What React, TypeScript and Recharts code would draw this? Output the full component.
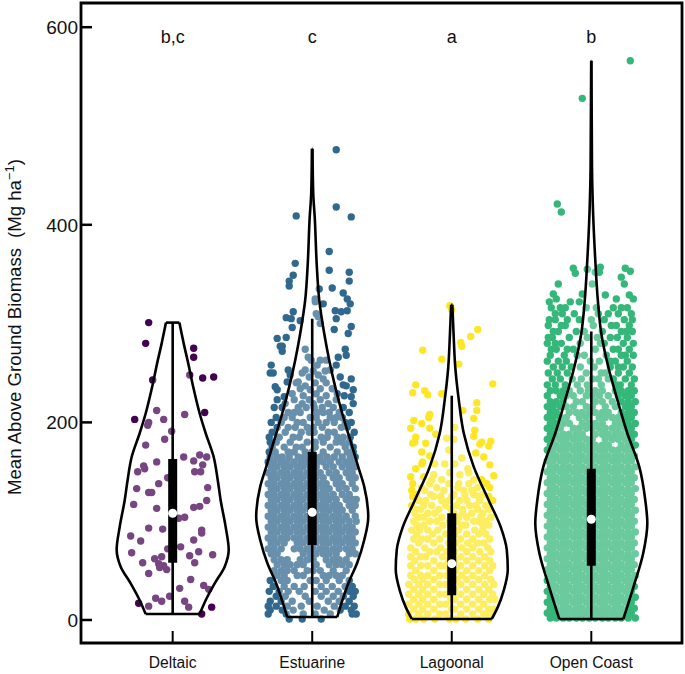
import { ReferenceArea, Scatter, ScatterChart, XAxis, YAxis, Curve } from 'recharts';

const FONT = '"Liberation Sans", Arial, sans-serif';
const categories = ['Deltaic', 'Estuarine', 'Lagoonal', 'Open Coast'];
const letters = ['b,c', 'c', 'a', 'b'];
const colors = ['#440154', '#31688E', '#FDE725', '#35B779'];
const yTicks = [0, 200, 400, 600];
const xDomain = [0.343, 4.65];
const yDomain = [-23.3, 624.5];
const UNIT = 1 / 139.5; // jitter and violin half widths are read in pixels of the picture

// box stats: low whisker, q1, median, q3, high whisker
const boxStats = [
    [6, 58, 108, 163, 301],
    [3, 76, 109, 170, 305],
    [0, 25, 57, 108, 227],
    [0, 55, 102, 153, 292],
];

// [biomass, half width]
const deltaicViolin = [[6, 27], [20, 33], [37, 42], [54, 52], [71, 56], [94, 53], [121, 48], [142, 45], [165, 41], [189, 33], [209, 27], [236, 20.5], [260, 15.5], [280, 11], [301, 6.7]];
const estuarineViolin = [[3, 25], [37, 36], [58, 45], [81, 52], [104, 56], [135, 52], [155, 46], [182, 38], [209, 30], [236, 23], [263, 17], [290, 12], [324, 7], [360, 4.5], [408, 2.5], [432, 1], [477, 0.3]];
const lagoonalViolin = [[1, 40], [13, 46], [30, 52], [51, 56], [71, 55], [94, 49], [121, 37], [155, 22], [189, 12], [223, 7], [256, 3.5], [290, 1.8], [319, 0.6]];
const openViolin = [[1, 32], [33, 42], [68, 52], [98, 56], [121, 54], [155, 48], [189, 36], [223, 26], [256, 17], [290, 10], [324, 6.5], [364, 4], [412, 1.8], [458, 0.7], [566, 0.1]];

// [biomass, jitter, jitter, ...]
const deltaicRows = [
    [301, -24], [280, -27], [275, 21], [266, 21], [243, -20], [248, 17], [245, 30], [246, 41], [210, 32], [203, -38, -9], [212, -16], [208, 12],
    [200, -24], [197, -25], [191, -1], [183, -8], [177, -27], [165, 11, 34], [167, 27], [161, 21], [157, 30], [160, -16], [156, -29], [153, -28],
    [150, -35, 22, 28], [144, -5], [138, -14], [134, 35], [133, -36], [129, -24, -21], [121, 34], [117, -39], [113, -16], [114, 21], [115, 27],
    [104, 12], [103, 6], [93, -24], [92, -10], [91, 29], [88, 29], [85, -42], [81, 21], [80, -32], [74, 8], [72, -5], [68, -41], [69, 26], [66, 40],
    [65, 17], [62, -18], [64, -11], [58, -30, 22], [57, -14], [53, -13], [51, -6], [55, -9], [47, -24], [41, 18], [35, 31], [31, 36], [32, 7],
    [24, -3], [22, -17], [19, -11, 12], [17, -34], [14, -24], [13, 16, 39], [6, 29],
];
const estuarineRows = [
    [476, 24], [418, 24], [409, -16], [408, 39], [373, 17], [361, -17], [354, 17], [352, 37], [349, -19], [343, -23, 37], [338, -23], [335, 7], [336, 20],
    [331, 31], [325, 3, 35], [322, 3], [320, 11, 38], [313, 23, 35], [312, 29, -19], [310, 4], [307, 6], [306, -26], [305, -21, 24], [303, -12], [300, 8],
    [297, 39], [296, -20], [294, 22], [290, 36], [286, -26], [285, -35], [277, -30, -32], [274, 33, -7], [272, -30], [268, 34], [266, 26, -4], [263, 8, -1, 14],
    [258, -41, 24, 5], [253, -24, 18, -7], [252, 13, 1], [250, -42, -39, -10], [248, -22, 6], [246, 28, -3], [244, 39, 11], [241, -25, -14], [240, -16, 14, 3], [238, 31], [237, 34, -7], [236, -37],
    [234, -12, 8, 20], [233, -35, 41, -2], [229, 4, -20, 25], [227, 14, -9, 32], [226, 39, -28], [223, -35, -18, -3, 8, 24], [219, 41, -27, -10, 16, 1], [215, -38, -30, -14, -6, 2, 10, 21, 31],
    [210, -24, -18, -12, 5, 11, 17, 27, 37], [205, -36, -28, -20, -2, 4, 18, 24, 30], [200, -41, -31, -15, -9, 6, 14, 22, 39, 33], [195, -35, -24, -17, -5, 1, 10, 29, 35], [190, -40, -27, -11, -3, 2, 16, 22, 42],
    [185, -43, -33, -19, -13, 9, 15, 25, 31, 38], [180, -42, -36, -22, -5, 3, 11, 24, 30, 37], [175, -40, -28, -16, -10, 3, 18, 33, 41], [170, -43, -37, -24, -18, -7, 0, 11, 25, 35, 41],
    [165, -42, -35, -30, -23, -14, -8, 2, 8, 15, 22, 30, 38, 43], [160, -44, -38, -31, -25, -18, -11, -5, 5, 11, 18, 27, 34, 40], [155, -41, -35, -28, -22, -15, -9, -2, 4, 14, 21, 30, 37, 43],
    [149, -44, -38, -31, -25, -18, -12, -5, 1, 8, 17, 24, 34, 40], [144, -41, -35, -28, -22, -15, -9, -2, 4, 11, 21, 27, 37, 43], [138, -44, -38, -31, -25, -18, -12, -5, 1, 8, 14, 24, 30, 40],
    [133, -41, -35, -28, -22, -15, -9, -2, 4, 11, 17, 27, 34, 43], [127, -44, -38, -31, -25, -18, -12, -5, 1, 8, 14, 21, 30, 37], [122, -41, -35, -28, -22, -15, -9, -2, 4, 11, 17, 24, 34, 40, 44],
    [116, -44, -38, -31, -25, -18, -12, -5, 1, 8, 14, 21, 27, 37, 43], [111, -41, -35, -28, -22, -15, -9, -2, 4, 11, 17, 24, 30, 40], [105, -44, -38, -31, -25, -18, -12, -5, 1, 8, 14, 21, 27, 34, 43],
    [100, -41, -35, -28, -22, -15, -9, -2, 4, 11, 17, 24, 30, 37, 44], [94, -44, -38, -31, -25, -18, -12, -5, 1, 8, 14, 21, 27, 34, 40], [89, -41, -35, -28, -22, -15, -9, -2, 4, 11, 17, 24, 30, 37, 43],
    [83, -44, -38, -31, -25, -18, -12, -5, 1, 8, 14, 21, 27, 34, 40], [78, -41, -35, -28, -15, -9, -2, 4, 11, 17, 24, 30, 37, 43], [72, -44, -38, -31, -18, -12, -5, 1, 8, 14, 21, 27, 34, 40],
    [67, -41, -35, -9, -2, 4, 11, 17, 24, 37, 43], [61, -38, -31, -25, -12, -5, 1, 14, 21, 27, 34], [56, -35, -28, -22, -15, -9, 4, 17, 24, 30, 37],
    [50, -38, -31, -25, -18, -5, 1, 8, 21, 34], [45, -35, -28, -15, -9, 11, 17, 24, 30], [40, -42, -31, -25, -2, 4, 14, 27, 37], [34, -39, -28, -18, -8, 9, 20, 33, 40],
    [29, -43, -33, -24, -13, 3, 14, 26, 37, 43], [24, -36, -27, -7, 9, 21, 31, 41], [19, -42, -31, -20, -3, 16, 27, 37], [14, -44, -36, -25, -11, 5, 22, 33, 42],
    [10, -42, -30, -19, 12, 28, 39], [6, -44, -26, -9, 3, 18, 40, 44], [1, -23, -10, 9],
];
const lagoonalRows = [
    [318, -2], [314, 0], [294, 26], [287, 19], [281, 9], [277, 10], [273, -29], [264, -10], [259, 7], [239, 41], [238, -36], [232, -27], [230, -39], [229, -10],
    [228, -24], [220, 25], [212, 25, 11], [208, -22], [205, -23], [204, 22], [202, -38], [199, -30], [195, 3], [194, -41, -22], [192, 23], [188, -16], [186, 22],
    [185, -36], [184, -5], [183, 2], [181, 39], [180, -37, 30], [179, -39, -26], [178, 28], [176, 37], [172, -3], [170, -30], [169, 24], [166, -22], [165, 32],
    [164, 10], [160, -29], [158, -30, -17, -7, 3], [157, 38], [153, -36, 16], [149, 17, -2], [147, -18, 8], [146, 42], [145, -41, -28],
    [142, -10, 22, 30, -20], [138, -39, -22, -3, 17, 35, 7], [134, -15, 6, 26, 38, -30], [131, -40, -27, -8, 12, 20], [127, -35, -21, 2, 13, 22, 31], [125, -39, -18, -11, 0, 37, 27],
    [121, -33, -26, -10, -3, 8, 15, 28, 41], [116, -40, -28, -20, -6, 5, 18, 24, 34], [112, -36, -31, -13, -1, 11, 26, 37], [108, -37, -24, -17, 2, 11, 20, 31], [104, -33, -28, -10, 7, 15, 29, 39],
    [100, -38, -22, -15, -2, 5, 22, 27, 34], [96, -35, -28, -9, 10, 14, 31, 37], [91, -40, -32, -24, -14, 1, 7, 23, 31], [87, -35, -19, -6, 3, 15, 27, 34], [82, -38, -30, -24, -12, 9, 21, 38],
    [78, -33, -18, -3, 4, 16, 26, 32], [73, -41, -27, -11, 10, 21, 36], [69, -36, -22, -15, -5, 3, 15, 28, 39], [64, -41, -31, -26, -9, 9, 21, 33], [60, -37, -18, -3, 3, 15, 27, 38],
    [55, -41, -31, -24, -12, -7, 9, 21, 33, 41], [50, -36, -18, -2, 4, 15, 27, 38], [45, -41, -31, -24, -12, -5, 10, 21, 33], [41, -37, -29, -18, -1, 5, 15, 27, 39], [36, -43, -33, -24, -12, -6, 9, 21, 33, 42],
    [31, -38, -29, -18, 0, 3, 15, 27, 37], [26, -43, -33, -24, -12, -6, 9, 21, 32, 41], [21, -38, -29, -18, -1, 3, 15, 27, 38, 43], [16, -43, -33, -24, -12, -6, 9, 21, 32], [11, -38, -29, -18, 0, 3, 15, 27, 37, 42],
    [6, -43, -33, -24, -12, -6, 9, 21, 32, 38], [1, -42, -36, -28, -17, -2, 4, 14, 26, 37],
];
const openRows = [
    [566, 39], [528, -9], [421, -34], [413, -30], [357, 9], [356, -18, 34], [355, -4], [353, 39], [352, 4, 8], [351, -16], [347, 30], [340, -33, 1, 33], [330, -9, -38],
    [329, 14, 38], [325, -35, 42, 25], [322, -21, -12, -42], [316, -40, -31, -26, -5, 5, 22, 36, 30], [310, -36, -29, -17, 7, 27, 40, 17], [304, -42, -36, -24, -12, 0, 13, 33, 41],
    [298, -43, -30, -26, 2, 20, 25, 38], [292, -38, -33, -15, -7, 11, 30, 41, 35], [286, -43, -39, -22, -4, 6, 19, 26, 36], [280, -44, -36, -30, -11, 9, 13, 32, 42], [274, -40, -35, -24, -18, 4, 22, 27, 38],
    [268, -41, -27, -14, -7, 15, 30, 34, 42], [262, -44, -33, -25, -1, 8, 19, 24, 36], [256, -38, -29, -20, -11, 3, 19, 32, 41, 27], [250, -43, -34, -24, -5, 14, 10, 27, 38],
    [244, -39, -31, -19, -10, 1, 7, 22, 34, 43, 17], [238, -44, -36, -26, -14, -4, 10, 29, 25, 40], [232, -41, -35, -28, -22, -11, -3, 4, 11, 24, 30, 37, 43], [227, -44, -31, -25, -18, -5, 1, 8, 17, 27, 34, 40],
    [221, -41, -35, -28, -15, -9, 4, 11, 21, 30, 37, 44], [216, -44, -38, -31, -25, -18, -5, 1, 14, 24, 34, 40], [210, -41, -35, -22, -15, -9, -2, 4, 11, 17, 30, 37, 43], [205, -44, -38, -31, -25, -12, -5, 8, 14, 21, 27, 34, 40],
    [199, -41, -35, -28, -22, -9, -2, 4, 11, 24, 30, 37, 44], [194, -44, -38, -31, -18, -12, -5, 1, 8, 14, 21, 27, 34, 40], [188, -41, -35, -28, -22, -15, -9, 4, 11, 17, 24, 30, 37, 43],
    [183, -44, -38, -31, -25, -18, -12, -5, 1, 14, 21, 27, 34, 40], [177, -41, -35, -28, -22, -15, -9, -2, 4, 11, 17, 30, 37, 44], [172, -44, -38, -31, -25, -18, -12, -5, 1, 8, 14, 21, 27, 34, 40],
    [166, -41, -35, -28, -22, -15, -9, -2, 4, 11, 17, 24, 30, 37, 43], [161, -44, -38, -31, -25, -18, -12, -5, 1, 8, 14, 21, 27, 34, 40], [155, -41, -35, -28, -22, -15, -9, -2, 4, 11, 17, 24, 30, 37, 44],
    [150, -44, -38, -31, -25, -18, -12, -5, 1, 8, 14, 21, 27, 34, 40], [144, -41, -35, -28, -22, -15, -9, -2, 4, 11, 17, 24, 30, 37, 43], [139, -44, -38, -31, -25, -18, -12, -5, 1, 8, 14, 21, 27, 34, 40],
    [133, -41, -35, -28, -22, -15, -9, -2, 4, 11, 17, 24, 30, 37, 44], [128, -44, -38, -31, -25, -18, -12, -5, 1, 8, 14, 21, 27, 34, 40], [122, -41, -35, -28, -22, -15, -9, -2, 4, 11, 17, 24, 30, 37, 43],
    [117, -44, -38, -31, -25, -18, -12, -5, 1, 8, 14, 21, 27, 34, 40], [111, -41, -35, -28, -22, -15, -9, -2, 4, 11, 17, 24, 30, 37, 44], [106, -44, -38, -31, -25, -18, -12, -5, 1, 8, 14, 21, 27, 34, 40],
    [100, -41, -35, -28, -22, -15, -9, -2, 4, 11, 17, 24, 30, 37, 43], [95, -44, -38, -31, -25, -18, -12, -5, 1, 8, 14, 21, 27, 34, 40], [89, -41, -35, -28, -22, -15, -9, -2, 4, 11, 17, 24, 30, 37, 44],
    [84, -44, -38, -31, -25, -18, -12, -5, 1, 8, 14, 21, 27, 34, 40], [78, -41, -35, -28, -22, -15, -9, -2, 4, 11, 17, 24, 30, 37, 43], [73, -44, -38, -31, -25, -18, -12, -5, 1, 8, 14, 21, 27, 34, 40],
    [67, -41, -35, -28, -22, -15, -9, -2, 4, 11, 17, 24, 30, 37, 44], [62, -44, -38, -31, -25, -18, -12, -5, 1, 8, 14, 21, 27, 34, 40], [56, -41, -35, -28, -22, -15, -9, -2, 4, 11, 17, 24, 30, 37, 43],
    [51, -44, -38, -31, -25, -18, -12, -5, 1, 8, 14, 21, 27, 34, 40], [45, -41, -35, -28, -22, -15, -9, -2, 4, 11, 17, 24, 30, 37, 44], [40, -44, -38, -31, -25, -18, -12, -5, 1, 8, 14, 21, 27, 34, 40],
    [34, -41, -35, -28, -22, -15, -9, -2, 4, 11, 17, 24, 30, 37, 43], [29, -44, -38, -31, -25, -18, -12, -5, 1, 8, 14, 21, 27, 34, 40], [23, -41, -35, -28, -22, -15, -9, -2, 4, 11, 17, 24, 30, 37, 44],
    [18, -44, -38, -31, -25, -18, -12, -5, 1, 8, 14, 21, 27, 34, 40], [12, -41, -35, -28, -22, -15, -9, -2, 4, 11, 17, 24, 30, 37, 43], [7, -44, -38, -31, -25, -18, -12, -5, 1, 8, 14, 21, 27, 34, 40],
    [2, -41, -35, -28, -22, -15, -9, -2, 4, 11, 17, 24, 30, 37, 44],
];

const cloudRows = [deltaicRows, estuarineRows, lagoonalRows, openRows];
const violinProfiles = [deltaicViolin, estuarineViolin, lagoonalViolin, openViolin];

const cloudData = (rows: number[][], pos: number) =>
    rows.flatMap(([biomass, ...jitters]) => jitters.map(j => ({ x: pos + j * UNIT, y: biomass })));

const violinData = (profile: number[][], pos: number) => [
    ...profile.map(([biomass, half]) => ({ x: pos - half * UNIT, y: biomass })),
    ...[...profile].reverse().map(([biomass, half]) => ({ x: pos + half * UNIT, y: biomass })),
];

const noDot = () => <g />;

// fill polygon plus two smooth sides and the flat caps
const violinLine = (props: any) => {
    const pts = props.points;
    const n = pts.length / 2;
    const left = pts.slice(0, n);
    const right = pts.slice(n);
    const sideStyle = { stroke: '#000', strokeWidth: 2.6, fill: 'none' };
    return (
        <g>
            <Curve type="linearClosed" points={pts} fill="#fff" fillOpacity={0.27} stroke="none" />
            <Curve type="monotoneY" points={left} {...sideStyle} />
            <Curve type="monotoneY" points={right} {...sideStyle} />
            <Curve type="linear" points={[left[0], right[n - 1]]} {...sideStyle} />
            <Curve type="linear" points={[left[n - 1], right[0]]} {...sideStyle} />
        </g>
    );
};

const YTick = (props: any) => (
    <g>
        <line x1={props.x} x2={props.x + 11} y1={props.y} y2={props.y} stroke="#000" strokeWidth={2.5} />
        <text x={props.x - 3} y={props.y + 7} textAnchor="end" fontSize={19} fontFamily={FONT} fill="#111">{props.payload.value}</text>
    </g>
);

const XTick = (props: any) => (
    <g>
        <line x1={props.x} x2={props.x} y1={props.y} y2={props.y - 12} stroke="#000" strokeWidth={2} />
        <text x={props.x} y={props.y + 25} textAnchor="middle" fontSize={15.6} fontFamily={FONT} fill="#111">{categories[props.payload.value - 1]}</text>
    </g>
);

export default function App() {
    return (
        <div style={{ position: 'absolute', left: 0, top: 0 }}>
            <ScatterChart width={685} height={674} margin={{ top: 3, right: 3, bottom: 1, left: 0 }}>
                <XAxis type="number" dataKey="x" domain={xDomain} ticks={[1, 2, 3, 4]} allowDataOverflow axisLine={false} tickLine={false} tickSize={0} tickMargin={0} height={30} tick={XTick} interval={0} />
                <YAxis type="number" dataKey="y" domain={yDomain} ticks={yTicks} allowDataOverflow axisLine={false} tickLine={false} tickSize={0} tickMargin={0} width={81} tick={YTick} interval={0} />
                <ReferenceArea x1={xDomain[0]} x2={xDomain[1]} y1={yDomain[0]} y2={yDomain[1]} fill="none" stroke="#000" strokeWidth={2.8} />
                {categories.map((name, i) => (
                    <Scatter key={name} name={name} data={cloudData(cloudRows[i], i + 1)} isAnimationActive={false}
                        shape={(p: any) => <circle cx={p.cx} cy={p.cy} r={3.7} fill={colors[i]} />} />
                ))}
                {categories.map((name, i) => (
                    <Scatter key={name + '-violin'} data={violinData(violinProfiles[i], i + 1)} isAnimationActive={false} shape={noDot} line={violinLine} />
                ))}
                {categories.map((name, i) => (
                    <Scatter key={name + '-whisker'} data={[{ x: i + 1, y: boxStats[i][0] }, { x: i + 1, y: boxStats[i][4] }]} isAnimationActive={false} shape={noDot} line={{ stroke: '#000', strokeWidth: 2.6 }} />
                ))}
                {categories.map((name, i) => (
                    <Scatter key={name + '-box'} data={[{ x: i + 1, y: boxStats[i][1] }, { x: i + 1, y: boxStats[i][3] }]} isAnimationActive={false} shape={noDot} line={{ stroke: '#000', strokeWidth: 9 }} />
                ))}
                {categories.map((name, i) => (
                    <Scatter key={name + '-median'} data={[{ x: i + 1, y: boxStats[i][2] }]} isAnimationActive={false}
                        shape={(p: any) => <circle cx={p.cx} cy={p.cy} r={4.5} fill="#fff" />} />
                ))}
                {categories.map((name, i) => (
                    <Scatter key={name + '-letter'} data={[{ x: i + 1, y: 590 }]} isAnimationActive={false}
                        shape={(p: any) => <text x={p.cx} y={p.cy + 6} textAnchor="middle" fontSize={18} fontFamily={FONT} fill="#111">{letters[i]}</text>} />
                ))}
                <text transform="translate(21 327) rotate(-90)" textAnchor="middle" fontSize={18.6} fontFamily={FONT} fill="#111">
                    Mean Above Ground Biomass<tspan dx={10}>(Mg ha</tspan><tspan dy={-7} fontSize={13}>−1</tspan><tspan dy={7}>)</tspan>
                </text>
            </ScatterChart>
        </div>
    );
}
